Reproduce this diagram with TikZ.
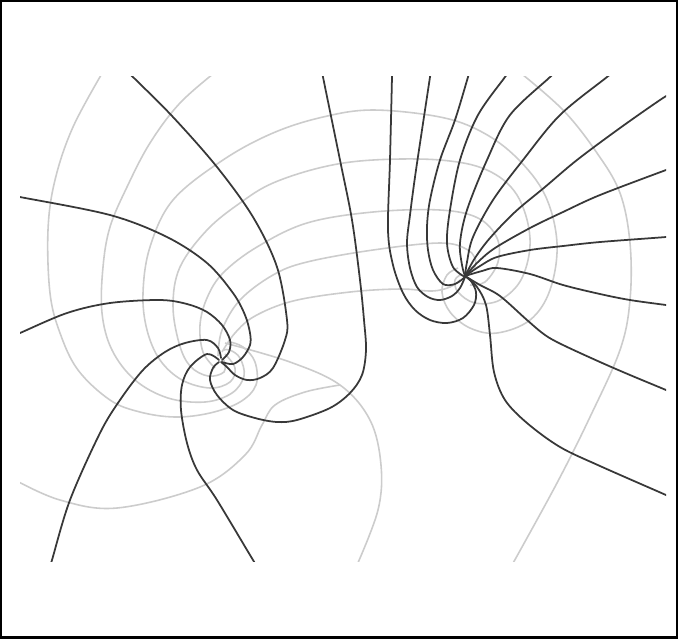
\documentclass[tikz,border=0pt]{standalone}
\begin{document}
\begin{tikzpicture}[x=0.01cm,y=-0.01cm]
\tikzset{dk/.style={draw=black!78, line width=0.5pt, line join=round, line cap=round},
         gy/.style={draw=black!20, line width=0.45pt, line join=round},
         frame/.style={draw=black, line width=0.8pt}}
\useasboundingbox (0,0) rectangle (678,638);
\fill[white] (0,0) rectangle (678,638);
\begin{scope}
\clip (20,76) rectangle (666,561);
% ---------- gray (orthogonal) family ----------
% outer loops round the left centre
\draw[gy] plot[smooth,tension=0.6] coordinates {(104,70) (73,127) (55,180) (48,230) (50,293) (60,333) (78,370) (110,400) (140,412) (175,417) (210,413) (240,402) (256,385) (255,362) (243,347) (230,342)};
\draw[gy] plot[smooth,tension=0.6] coordinates {(218,70) (180,103) (150,143) (127,187) (110,227) (103,267) (102,313) (112,350) (135,380) (168,398) (205,402) (232,393) (244,376) (240,358) (230,350) (224,350)};
% bands joining the two centres
\draw[gy] plot[smooth,tension=0.6] coordinates {(225,354) (235,368) (230,382) (210,388) (182,380) (160,360) (147,330) (143,293) (150,247) (173,200) (223,160) (273,133) (323,117) (373,110) (440,117) (482,132) (517,158) (545,195) (557,243) (550,290) (530,320) (497,333) (470,328) (450,312) (442,292) (447,275) (458,268)};
\draw[gy] plot[smooth,tension=0.6] coordinates {(224,360) (224,372) (208,376) (190,366) (179,343) (173,305) (180,267) (207,230) (240,203) (273,183) (323,167) (373,160) (440,160) (487,170) (517,195) (530,238) (522,278) (500,300) (475,303) (458,292) (455,280) (462,274)};
\draw[gy] plot[smooth,tension=0.6] coordinates {(215,368) (203,352) (200,325) (207,298) (223,273) (257,247) (307,223) (373,212) (440,210) (478,218) (497,238) (498,262) (485,282) (470,285)};
\draw[gy] plot[smooth,tension=0.6] coordinates {(218,356) (222,330) (240,300) (273,275) (307,262) (373,250) (440,243) (468,250) (476,263) (470,272)};
\draw[gy] plot[smooth,tension=0.6] coordinates {(222,352) (235,333) (255,316) (293,301) (350,292) (400,289) (432,291) (450,287) (460,280)};
% outer loop round the right centre
\draw[gy] plot[smooth,tension=0.6] coordinates {(517,70) (563,110) (597,153) (620,193) (630,243) (630,300) (620,350) (590,417) (557,483) (512,565)};
% lower left loop, the meeting point and the branch down
\draw[gy] plot[smooth,tension=0.6] coordinates {(15,480) (60,500) (117,508) (200,487) (245,455) (262,425) (275,405) (305,392) (340,385)};
\draw[gy] plot[smooth,tension=0.6] coordinates {(225,343) (290,362) (340,385) (370,420) (381,465) (378,510) (357,565)};
% ---------- dark (field) lines, left centre ----------
\draw[dk] plot[smooth,tension=0.55] coordinates {(128,72) (133,77) (173,117) (217,167) (253,217) (277,267) (287,320) (285,340) (273,368) (260,378) (247,380) (235,375) (227,367) (221,362)};
\draw[dk] plot[smooth,tension=0.55] coordinates {(15,196) (20,197) (110,215) (167,237) (207,263) (233,293) (245,315) (250,333) (250,345) (243,357) (233,364) (222,362)};
\draw[dk] plot[smooth,tension=0.55] coordinates {(15,335) (20,333) (67,313) (110,303) (160,300) (187,304) (207,312) (222,325) (230,340) (229,352) (222,360)};
\draw[dk] plot[smooth,tension=0.55] coordinates {(50,566) (52,560) (70,500) (100,433) (120,400) (143,370) (165,352) (185,343) (207,340) (218,348) (221,358)};
\draw[dk] plot[smooth,tension=0.55] coordinates {(257,566) (253,560) (217,500) (197,470) (187,443) (181,410) (182,385) (190,367) (207,354) (219,360)};
\draw[dk] plot[smooth,tension=0.55] coordinates {(322,70) (323,77) (340,160) (352,220) (360,280) (364,320) (366,350) (362,375) (350,393) (330,408) (297,420) (277,422) (255,418) (233,410) (217,395) (210,380) (213,368) (219,362)};
% ---------- dark lines, right centre ----------
\draw[dk] plot[smooth,tension=0.55] coordinates {(392,70) (392,77) (390,160) (388,230) (393,265) (403,293) (415,310) (430,320) (447,323) (463,318) (474,305) (476,292) (471,281) (465,276)};
\draw[dk] plot[smooth,tension=0.55] coordinates {(431,70) (430,77) (422,130) (415,177) (410,215) (407,243) (410,268) (417,287) (428,297) (440,300) (452,296) (460,288) (465,277)};
\draw[dk] plot[smooth,tension=0.55] coordinates {(470,70) (468,77) (455,120) (440,160) (430,200) (427,227) (428,250) (433,270) (443,284) (455,284) (465,277)};
\draw[dk] plot[smooth,tension=0.55] coordinates {(510,70) (505,77) (478,115) (460,160) (450,210) (447,243) (453,267) (465,277)};
\draw[dk] plot[smooth,tension=0.55] coordinates {(556,70) (550,77) (510,115) (487,160) (467,210) (460,243) (462,265) (465,276)};
\draw[dk] plot[smooth,tension=0.55] coordinates {(615,70) (607,77) (560,115) (523,160) (493,200) (473,237) (467,262) (465,276)};
\draw[dk] plot[smooth,tension=0.55] coordinates {(672,94) (663,98) (620,128) (577,160) (545,187) (515,212) (490,238) (475,258) (465,276)};
\draw[dk] plot[smooth,tension=0.55] coordinates {(672,168) (666,170) (600,195) (563,212) (530,228) (495,248) (478,262) (465,276)};
\draw[dk] plot[smooth,tension=0.55] coordinates {(672,236) (666,237) (600,242) (563,246) (530,250) (497,257) (480,266) (465,276)};
\draw[dk] plot[smooth,tension=0.55] coordinates {(672,306) (666,305) (630,300) (600,294) (563,285) (530,274) (497,268) (482,271) (465,276)};
\draw[dk] plot[smooth,tension=0.55] coordinates {(672,393) (666,390) (630,375) (600,362) (563,345) (545,335) (527,320) (500,296) (480,285) (465,276)};
\draw[dk] plot[smooth,tension=0.55] coordinates {(672,498) (666,495) (600,466) (560,447) (527,423) (505,400) (494,372) (490,335) (486,305) (477,287) (465,276)};
\end{scope}
\draw[frame] (0.5,0.5) rectangle (677.5,637.5);
\end{tikzpicture}
\end{document}
